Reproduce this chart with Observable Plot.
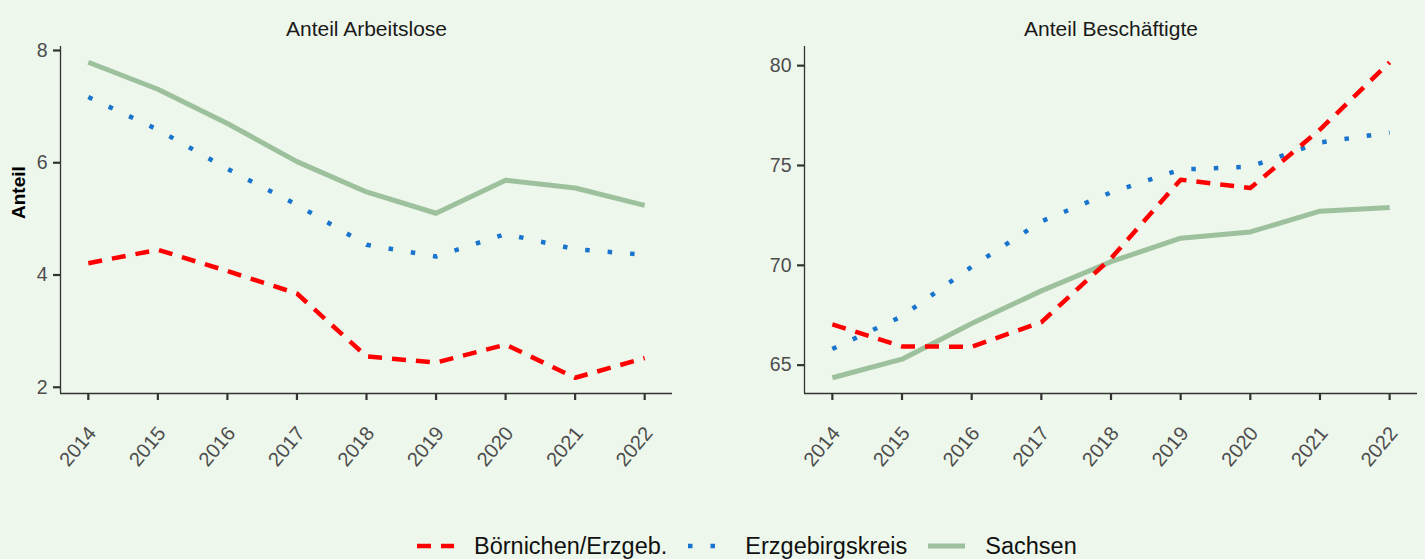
<!DOCTYPE html>
<html>
<head>
<meta charset="utf-8">
<script src="https://cdn.jsdelivr.net/npm/d3@7"></script>
<script src="https://cdn.jsdelivr.net/npm/@observablehq/plot@0.6"></script>
<style>
  html, body { margin: 0; padding: 0; background: #EEF7EC; }
  #wrap { position: relative; width: 1425px; height: 559px; background: #EEF7EC; overflow: hidden;
          font-family: "Liberation Sans", Arial, Helvetica, sans-serif; }
  #left, #right { position: absolute; top: 0; }
  #left { left: 0; }
  #right { left: 730px; }
  svg g[aria-label="x-axis tick label"], svg g[aria-label="y-axis tick label"] { fill: #4D4D4D; }
  #legend { position: absolute; left: 417px; top: 531px; height: 30px; display: flex; align-items: center;
            font-size: 23.5px; color: #111; white-space: nowrap; }
  #legend .sw { display: block; margin-right: 20px; }
  #legend .lab { margin-right: 21px; }
</style>
</head>
<body>
<div id="wrap">
  <div id="left"></div>
  <div id="right"></div>
  <div id="legend"></div>
</div>
<script>
// ---- data ----
const years = [2014, 2015, 2016, 2017, 2018, 2019, 2020, 2021, 2022];
const seriesNames = ["Börnichen/Erzgeb.", "Erzgebirgskreis", "Sachsen"];
const panelTitles = ["Anteil Arbeitslose", "Anteil Beschäftigte"];
const yAxisTitle = "Anteil";

const arbeitsloseBoernichen = [4.21, 4.45, 4.07, 3.67, 2.55, 2.44, 2.76, 2.17, 2.52];
const arbeitsloseErzgebirge = [7.17, 6.59, 5.89, 5.25, 4.54, 4.33, 4.73, 4.46, 4.36];
const arbeitsloseSachsen    = [7.79, 7.31, 6.70, 6.02, 5.48, 5.10, 5.69, 5.55, 5.24];

const beschaeftigteBoernichen = [67.04, 65.94, 65.92, 67.15, 70.35, 74.29, 73.87, 76.80, 80.17];
const beschaeftigteErzgebirge = [65.81, 67.45, 69.93, 72.20, 73.65, 74.80, 74.94, 76.15, 76.65];
const beschaeftigteSachsen    = [64.37, 65.30, 67.09, 68.72, 70.18, 71.36, 71.67, 72.71, 72.89];

const ticksArbeitslose = [2, 4, 6, 8];
const ticksBeschaeftigte = [65, 70, 75, 80];

// ---- styles ----
const seriesStyle = {
  "Börnichen/Erzgeb.": { stroke: "#FF0000", strokeWidth: 4.5, strokeDasharray: "14,10" },
  "Erzgebirgskreis":   { stroke: "#1874CD", strokeWidth: 4.5, strokeDasharray: "4.5,18" },
  "Sachsen":           { stroke: "#9DC09D", strokeWidth: 5,   strokeDasharray: null }
};
const drawOrder = ["Sachsen", "Erzgebirgskreis", "Börnichen/Erzgeb."];

function rows(name, vals) { return years.map((y, i) => ({ year: y, value: vals[i], series: name })); }

function extentPadded(arrs) {
  const all = arrs.flat();
  const lo = d3.min(all), hi = d3.max(all), pad = (hi - lo) * 0.05;
  return [lo - pad, hi + pad];
}
const xDomain = [years[0] - 0.4, years[years.length - 1] + 0.4];

function panel({ seriesData, yTicks, title, yLabel, width, marginLeft, marginRight }) {
  const yDomain = extentPadded(Object.values(seriesData));
  const data = drawOrder.flatMap(n => rows(n, seriesData[n]));
  const marks = [
    Plot.ruleX([xDomain[0]], { stroke: "#333", strokeWidth: 1.3 }),
    Plot.ruleY([yDomain[0]], { stroke: "#333", strokeWidth: 1.3 }),
    // x ticks
    Plot.axisX(years, { tickSize: 7, stroke: "#333", strokeWidth: 2.2, tickFormat: () => "", label: null }),
    // x tick labels (rotated)
    Plot.axisX(years, { tickSize: 0, tickRotate: -50, tickPadding: 36, dx: 4, fontSize: 20,
                        tickFormat: d => String(d), label: null }),
    Plot.axisY(yTicks, { tickSize: 7, tickPadding: 6, fontSize: 19.5, stroke: "#333", strokeWidth: 2.2,
                         tickFormat: d => String(d), label: null })
  ];
  for (const n of drawOrder) {
    const st = seriesStyle[n];
    marks.push(Plot.line(data.filter(d => d.series === n), {
      x: "year", y: "value", stroke: st.stroke, strokeWidth: st.strokeWidth,
      strokeDasharray: st.strokeDasharray, strokeLinecap: "butt", strokeLinejoin: "round"
    }));
  }
  marks.push(Plot.text([title], { text: d => d, frameAnchor: "top", dy: -25, fontSize: 21, fill: "#1A1A1A" }));
  if (yLabel) {
    marks.push(Plot.text([yLabel], { text: d => d, frameAnchor: "left", rotate: -90, dx: -42, dy: -1,
                                     fontSize: 19, fontWeight: "bold", fill: "#000" }));
  }
  return Plot.plot({
    width, height: 480, marginTop: 46, marginBottom: 87, marginLeft, marginRight,
    style: { background: "transparent", fontFamily: "Liberation Sans, Arial, Helvetica, sans-serif", overflow: "visible" },
    x: { domain: xDomain },
    y: { domain: yDomain },
    marks
  });
}

document.getElementById("left").append(panel({
  seriesData: { "Börnichen/Erzgeb.": arbeitsloseBoernichen, "Erzgebirgskreis": arbeitsloseErzgebirge, "Sachsen": arbeitsloseSachsen },
  yTicks: ticksArbeitslose, title: panelTitles[0], yLabel: yAxisTitle,
  width: 730, marginLeft: 60, marginRight: 58
}));
document.getElementById("right").append(panel({
  seriesData: { "Börnichen/Erzgeb.": beschaeftigteBoernichen, "Erzgebirgskreis": beschaeftigteErzgebirge, "Sachsen": beschaeftigteSachsen },
  yTicks: ticksBeschaeftigte, title: panelTitles[1], yLabel: null,
  width: 695, marginLeft: 74, marginRight: 8
}));

// ---- legend ----
const legend = document.getElementById("legend");
for (const n of seriesNames) {
  const st = seriesStyle[n];
  const ns = "http://www.w3.org/2000/svg";
  const svg = document.createElementNS(ns, "svg");
  svg.setAttribute("width", 37); svg.setAttribute("height", 12); svg.setAttribute("class", "sw");
  const ln = document.createElementNS(ns, "line");
  ln.setAttribute("x1", 0); ln.setAttribute("x2", 37); ln.setAttribute("y1", 6); ln.setAttribute("y2", 6);
  ln.setAttribute("stroke", st.stroke); ln.setAttribute("stroke-width", st.strokeWidth);
  if (st.strokeDasharray) ln.setAttribute("stroke-dasharray", st.strokeDasharray);
  svg.append(ln);
  const lab = document.createElement("span");
  lab.className = "lab"; lab.textContent = n;
  legend.append(svg, lab);
}
</script>
</body>
</html>
